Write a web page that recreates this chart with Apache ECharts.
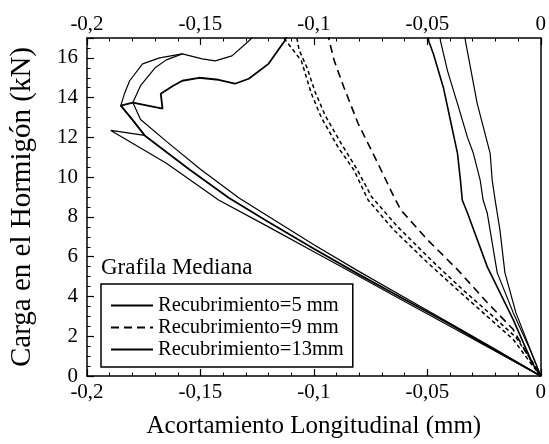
<!DOCTYPE html>
<html>
<head>
<meta charset="utf-8">
<script src="https://cdn.jsdelivr.net/npm/echarts@6/dist/echarts.min.js"></script>
<style>
  html, body { margin: 0; padding: 0; background: #fff; }
  #chart { width: 549px; height: 444px; }
</style>
</head>
<body>
<div id="chart"></div>
<script>
// etiquetas de la leyenda
const nombres = ['Recubrimiento=5 mm', 'Recubrimiento=9 mm', 'Recubrimiento=13mm'];

// ramas de pendiente suave (x = acortamiento en mm, y = carga en kN)
const suave5 = [[0,0],[-0.02,1.3],[-0.04,2.6],[-0.06,3.85],[-0.08,5.1],[-0.1,6.4],[-0.12,7.75],[-0.1374,8.95],[-0.155,10.4],[-0.1746,12.1],[-0.18,12.9],[-0.1851,13.6],[-0.1798,13.75],[-0.1667,13.45],[-0.1675,14.2],[-0.162,14.6],[-0.158,14.85],[-0.1506,15.0],[-0.142,14.9],[-0.1348,14.7],[-0.1287,14.95],[-0.12,15.7],[-0.1129,16.85],[-0.111,17.3]];
const suave13a = [[0,0],[-0.02,1.25],[-0.04,2.5],[-0.06,3.75],[-0.08,5.0],[-0.1,6.25],[-0.12,7.5],[-0.1420,8.85],[-0.165,10.7],[-0.1895,12.35],[-0.1746,12.1],[-0.1851,13.6],[-0.1835,14.2],[-0.1812,14.85],[-0.1755,15.7],[-0.168,16.0],[-0.158,16.2],[-0.1492,15.95],[-0.1435,15.85],[-0.1361,16.1],[-0.1287,16.85],[-0.125,17.3]];
const suave13b = [[0,0],[-0.02,1.35],[-0.04,2.65],[-0.06,3.95],[-0.08,5.25],[-0.1,6.6],[-0.1330,8.95],[-0.15,10.4],[-0.165,11.8],[-0.1764,12.9],[-0.1798,13.75],[-0.1764,14.6],[-0.170,15.5],[-0.165,15.9],[-0.158,16.2]];

// ramas empinadas (cerca de -0,05 .. 0)
const empinada5 = [[0,0],[-0.0035,0.6],[-0.0122,2.85],[-0.0236,5.5],[-0.0323,8.2],[-0.0346,8.85],[-0.0354,9.85],[-0.0367,11.2],[-0.0398,12.85],[-0.0429,14.5],[-0.0473,16.2],[-0.0494,16.85],[-0.0498,17.3]];
const empinada13a = [[0,0],[-0.0048,1.35],[-0.0122,3.2],[-0.0192,5.2],[-0.0236,8.2],[-0.0254,8.85],[-0.0267,9.85],[-0.0297,11.2],[-0.0323,12.0],[-0.0367,13.7],[-0.0411,15.35],[-0.0442,16.85],[-0.0446,17.3]];
const empinada13b = [[0,0],[-0.0045,1.3],[-0.011,3.2],[-0.0158,5.2],[-0.018,7.35],[-0.0201,8.85],[-0.0214,9.85],[-0.0223,11.2],[-0.028,13.7],[-0.0332,16.85],[-0.0336,17.3]];

// ramas discontinuas (9 mm)
const discontinua9 = [[0,0],[-0.0048,0.85],[-0.0122,2.35],[-0.0236,3.7],[-0.0367,5.35],[-0.0499,6.85],[-0.0617,8.35],[-0.0655,9.2],[-0.0718,10.7],[-0.0805,12.7],[-0.0867,14.5],[-0.091,15.85],[-0.0932,16.85],[-0.094,17.3]];
const cruces9a = [[0,0],[-0.0035,0.5],[-0.0122,1.85],[-0.0236,3.0],[-0.0354,4.2],[-0.0499,5.7],[-0.0648,7.35],[-0.0761,8.85],[-0.0823,10.35],[-0.0893,11.5],[-0.0967,13.0],[-0.1011,14.2],[-0.1055,15.85],[-0.1129,16.95],[-0.114,17.3]];
const cruces9b = [[0,0],[-0.003,0.6],[-0.011,1.95],[-0.022,3.1],[-0.034,4.3],[-0.048,5.8],[-0.063,7.5],[-0.0745,9.0],[-0.081,10.4],[-0.088,11.7],[-0.095,13.1],[-0.0995,14.3],[-0.103,15.5],[-0.1065,16.4],[-0.108,17.3]];

const fuente = "'Liberation Serif', 'Times New Roman', serif";

function formatoComa(v) {
  return String(+v.toFixed(2)).replace('.', ',');
}

function linea(nombre, datos, ancho, tipo) {
  return {
    name: nombre,
    type: 'line',
    data: datos,
    color: '#000',
    symbol: 'none',
    showSymbol: false,
    clip: true,
    lineStyle: { color: '#000', width: ancho, type: tipo }
  };
}

const chart = echarts.init(document.getElementById('chart'), null, { renderer: 'canvas' });

const ejeX = {
  type: 'value',
  min: -0.2,
  max: 0,
  interval: 0.05,
  axisLine: { onZero: false, lineStyle: { color: '#000', width: 1.5 } },
  axisTick: { inside: true, length: 7, lineStyle: { color: '#000', width: 1.2 } },
  minorTick: { show: true, splitNumber: 5, length: 3.5, lineStyle: { color: '#000', width: 1 } },
  splitLine: { show: false },
  axisLabel: { formatter: formatoComa, fontFamily: fuente, fontSize: 21, color: '#000', margin: 6 }
};

const option = {
  animation: false,
  backgroundColor: '#fff',
  title: {
    text: 'Grafila Mediana',
    left: 101,
    top: 256,
    padding: 0,
    textStyle: { fontFamily: fuente, fontSize: 23, fontWeight: 'normal', color: '#000' }
  },
  legend: {
    data: nombres,
    orient: 'vertical',
    left: 101,
    top: 284,
    padding: [11, 9, 7, 9],
    itemWidth: 42,
    itemHeight: 12,
    itemGap: 1,
    itemStyle: { opacity: 0 },
    borderColor: '#000',
    borderWidth: 1.5,
    textStyle: { fontFamily: fuente, fontSize: 20.5, color: '#000' }
  },
  grid: { left: 84, right: 8, top: 38, bottom: 67 },
  xAxis: [
    Object.assign({}, ejeX, {
      position: 'bottom',
      name: 'Acortamiento Longitudinal (mm)',
      nameLocation: 'middle',
      nameGap: 38,
      nameTextStyle: { fontFamily: fuente, fontSize: 25, color: '#000' }
    }),
    Object.assign({}, ejeX, {
      position: 'top',
      axisLabel: Object.assign({}, ejeX.axisLabel, { margin: 3 })
    })
  ],
  yAxis: [
    {
      type: 'value',
      min: 0,
      max: 17,
      interval: 2,
      position: 'left',
      name: 'Carga en el Hormigón (kN)',
      nameLocation: 'middle',
      nameGap: 50,
      nameTextStyle: { fontFamily: fuente, fontSize: 29, color: '#000' },
      axisLine: { onZero: false, lineStyle: { color: '#000', width: 1.5 } },
      axisTick: { inside: true, length: 7, lineStyle: { color: '#000', width: 1.2 } },
      minorTick: { show: true, splitNumber: 4, length: 3.5, lineStyle: { color: '#000', width: 1 } },
      splitLine: { show: false },
      axisLabel: { fontFamily: fuente, fontSize: 21, color: '#000', margin: 9, showMaxLabel: false }
    },
    {
      type: 'value',
      min: 0,
      max: 17,
      position: 'right',
      axisLine: { show: true, onZero: false, lineStyle: { color: '#000', width: 1.5 } },
      axisTick: { show: false },
      axisLabel: { show: false },
      splitLine: { show: false }
    }
  ],
  series: [
    linea(nombres[0], suave5, 1.8, 'solid'),
    linea(nombres[1], discontinua9, 1.6, [8, 5]),
    linea(nombres[2], suave13a, 1.2, 'solid'),
    linea(nombres[2], suave13b, 1.2, 'solid'),
    linea(nombres[0], empinada5, 1.6, 'solid'),
    linea(nombres[2], empinada13a, 1.2, 'solid'),
    linea(nombres[2], empinada13b, 1.2, 'solid'),
    linea(nombres[1], cruces9a, 1.5, [4, 3]),
    linea(nombres[1], cruces9b, 1.5, [4, 3])
  ]
};

chart.setOption(option);
window.addEventListener('resize', () => chart.resize());
</script>
</body>
</html>
